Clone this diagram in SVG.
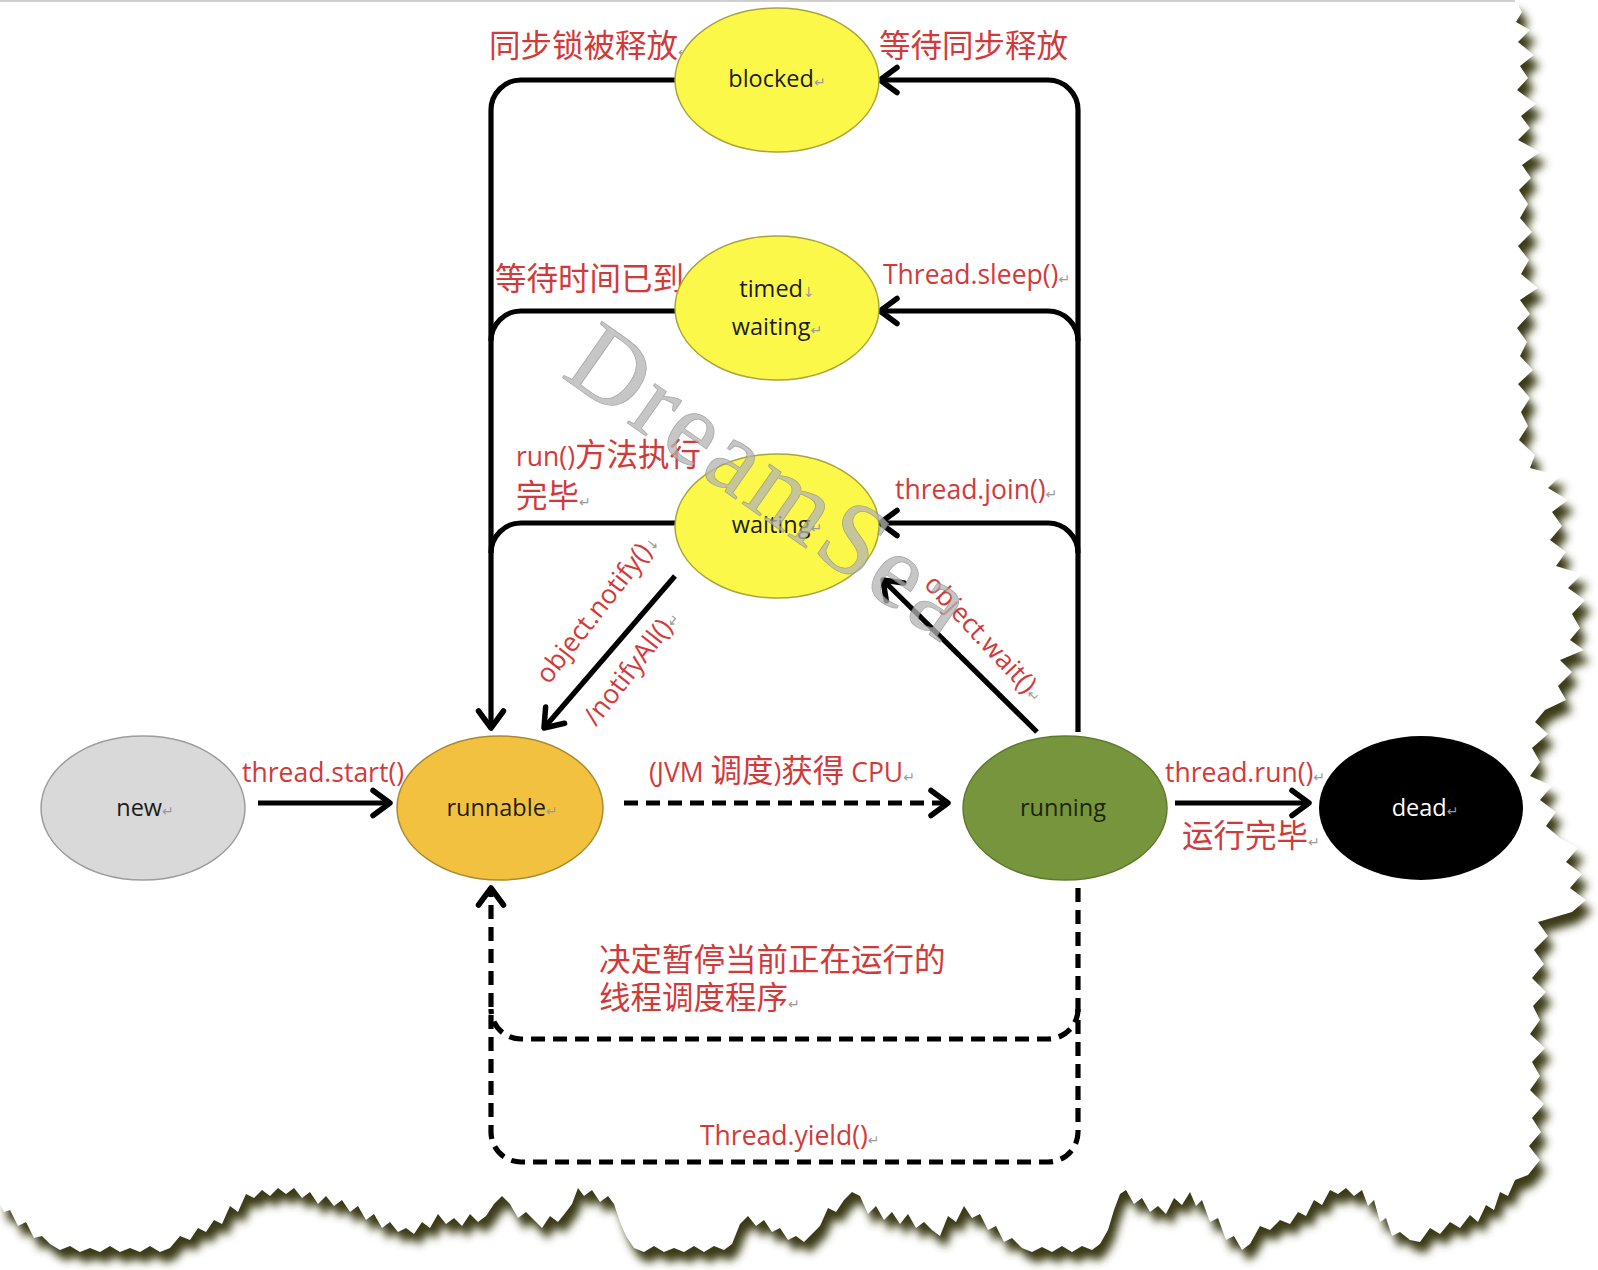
<svg xmlns="http://www.w3.org/2000/svg" width="1598" height="1270" viewBox="0 0 1598 1270">
<defs>
<style>
.lbl{font-family:"Open Sans","Noto Sans CJK SC",sans-serif;fill:#d23a3a;font-size:26.5px}
.cn{font-family:"Noto Sans CJK SC",sans-serif;fill:#d23a3a;font-size:31.5px}
.nt{font-family:"Open Sans","Noto Sans CJK SC",sans-serif;font-size:23.5px;text-anchor:middle}
.pm{fill:#9a9a9a;font-size:14px;font-family:"DejaVu Sans",sans-serif}
.ln{fill:none;stroke:#000;stroke-width:5.2}
.dl{fill:none;stroke:#000;stroke-width:5.2;stroke-dasharray:14 8}
.yel{fill:#fbf84a;stroke:#a8a53a;stroke-width:1.5}
</style>
<marker id="ah" markerUnits="userSpaceOnUse" viewBox="-24 -16 28 32" refX="0" refY="0" markerWidth="28" markerHeight="32" orient="auto">
<path d="M-17,-12.5 L0,0 L-17,12.5" fill="none" stroke="#000" stroke-width="5.5" stroke-linecap="round" stroke-linejoin="round"/>
</marker>
<filter id="blur" x="-5%" y="-5%" width="110%" height="110%"><feGaussianBlur stdDeviation="4"/></filter>
<path id="paper" d="M0,0 L1515,0 L1522,12 L1516,22 L1530,30 L1518,42 L1534,55 L1520,66 L1528,78 L1517,90 L1536,104 L1521,116 L1530,128 L1518,140 L1540,152 L1522,165 L1531,178 L1519,190 L1528,204 L1520,218 L1532,232 L1518,246 L1529,260 L1521,274 L1538,288 L1520,300 L1530,314 L1517,328 L1527,342 L1520,356 L1533,370 L1518,384 L1530,398 L1521,412 L1528,426 L1519,440 L1535,455 L1530,468 L1560,476 L1548,488 L1568,500 L1552,512 L1562,526 L1550,540 L1566,552 L1556,566 L1582,574 L1568,588 L1585,600 L1572,614 L1580,628 L1570,640 L1584,650 L1560,660 L1572,672 L1558,686 L1566,700 L1545,710 L1535,722 L1548,734 L1532,748 L1540,762 L1530,776 L1552,786 L1540,800 L1556,812 L1546,826 L1560,838 L1578,848 L1566,862 L1582,874 L1570,888 L1586,900 L1572,912 L1538,922 L1548,936 L1534,950 L1544,964 L1532,978 L1546,992 L1533,1006 L1540,1020 L1530,1034 L1545,1048 L1532,1062 L1540,1076 L1530,1090 L1544,1104 L1532,1118 L1541,1132 L1529,1146 L1540,1160 L1528,1175 L1515,1180 L1508,1196 L1500,1192 L1494,1210 L1486,1205 L1478,1222 L1470,1215 L1460,1228 L1450,1222 L1440,1234 L1430,1228 L1420,1242 L1410,1240 L1400,1232 L1392,1236 L1386,1218 L1380,1222 L1374,1200 L1368,1206 L1362,1190 L1354,1196 L1346,1188 L1338,1194 L1330,1190 L1322,1205 L1314,1200 L1306,1216 L1298,1212 L1290,1224 L1280,1220 L1270,1230 L1260,1226 L1250,1244 L1242,1250 L1234,1236 L1226,1240 L1218,1218 L1210,1222 L1202,1200 L1196,1206 L1190,1192 L1182,1205 L1174,1198 L1166,1214 L1158,1206 L1150,1212 L1142,1198 L1134,1204 L1126,1190 L1120,1194 L1114,1210 L1108,1230 L1100,1244 L1092,1250 L1082,1246 L1072,1252 L1062,1246 L1052,1252 L1042,1247 L1032,1252 L1022,1248 L1012,1238 L1004,1242 L996,1226 L988,1230 L980,1214 L972,1218 L964,1206 L956,1222 L948,1216 L940,1236 L932,1230 L924,1222 L916,1228 L908,1214 L900,1224 L892,1212 L884,1220 L876,1206 L868,1214 L860,1196 L852,1192 L844,1200 L836,1212 L828,1208 L820,1226 L812,1234 L804,1242 L796,1236 L788,1240 L780,1228 L772,1232 L764,1220 L756,1226 L748,1216 L740,1224 L732,1244 L724,1250 L714,1246 L704,1252 L694,1246 L684,1252 L674,1248 L664,1252 L654,1246 L644,1252 L634,1248 L626,1236 L620,1222 L614,1204 L608,1196 L600,1202 L592,1190 L584,1196 L578,1188 L572,1204 L566,1212 L558,1222 L550,1216 L542,1228 L534,1220 L526,1212 L518,1218 L510,1204 L502,1196 L494,1204 L486,1216 L478,1222 L470,1214 L462,1226 L454,1218 L446,1224 L438,1214 L430,1228 L422,1222 L414,1234 L406,1228 L398,1232 L390,1222 L382,1228 L374,1214 L366,1220 L358,1206 L350,1212 L342,1200 L334,1206 L326,1196 L318,1204 L310,1192 L302,1198 L294,1188 L286,1194 L278,1188 L270,1196 L262,1190 L254,1198 L246,1194 L238,1212 L230,1206 L222,1224 L214,1220 L206,1232 L198,1228 L190,1240 L180,1236 L170,1248 L160,1252 L150,1246 L140,1252 L130,1248 L120,1252 L110,1246 L100,1252 L90,1248 L80,1252 L70,1246 L60,1250 L50,1244 L42,1236 L34,1238 L26,1222 L18,1226 L10,1210 L4,1212 L0,1204 Z"/>
</defs>
<rect width="1598" height="1270" fill="#fff"/>
<g id="paper-bg">
<use href="#paper" fill="#3a3a12" filter="url(#blur)" transform="translate(6,11)"/>
<use href="#paper" fill="#fff"/>
<line x1="0" y1="1" x2="1515" y2="1" stroke="#cfcfcf" stroke-width="2"/>
</g>
<g id="connectors">
<path class="ln" d="M675,80 H521 A30,30 0 0 0 491,110 V728" marker-end="url(#ah)"/>
<path class="ln" d="M675,311 H521 A30,30 0 0 0 491,341"/>
<path class="ln" d="M675,523 H521 A30,30 0 0 0 491,553"/>
<path class="ln" d="M1078,732 V110 A30,30 0 0 0 1048,80 H880" marker-end="url(#ah)"/>
<path class="ln" d="M1078,341 A30,30 0 0 0 1048,311 H880" marker-end="url(#ah)"/>
<path class="ln" d="M1078,553 A30,30 0 0 0 1048,523 H880" marker-end="url(#ah)"/>
<path class="ln" d="M675,576 L544,728" marker-end="url(#ah)"/>
<path class="ln" d="M1037,732 L883,580" marker-end="url(#ah)"/>
<path class="ln" d="M258,803 H390" marker-end="url(#ah)"/>
<path class="dl" d="M624,803 H948" marker-end="url(#ah)"/>
<path class="ln" d="M1175,803 H1309" marker-end="url(#ah)"/>
<path class="dl" d="M1078,888 V1132 A30,30 0 0 1 1048,1162 H521 A30,30 0 0 1 491,1132 V888" marker-end="url(#ah)"/>
<path class="dl" d="M1078,1009 A30,30 0 0 1 1048,1039 H521 A30,30 0 0 1 491,1009"/>
</g>
<g id="labels">
<text class="cn" x="489" y="57">同步锁被释放<tspan class="pm">↵</tspan></text>
<text class="cn" x="879" y="57">等待同步释放</text>
<text class="cn" x="495" y="290">等待时间已到<tspan class="pm">↵</tspan></text>
<text class="lbl" x="883" y="284">Thread.sleep()<tspan class="pm">↵</tspan></text>
<text class="lbl" x="516" y="466">run()<tspan class="cn">方法执行</tspan></text>
<text class="cn" x="516" y="507">完毕<tspan class="pm">↵</tspan></text>
<text class="lbl" x="895" y="499">thread.join()<tspan class="pm">↵</tspan></text>
<text class="lbl" text-anchor="middle" transform="translate(598,609) rotate(-52)" x="0" y="8">object.notify()<tspan class="pm">↓</tspan></text>
<text class="lbl" text-anchor="middle" transform="translate(632,668) rotate(-52)" x="0" y="8">/notifyAll()<tspan class="pm">↵</tspan></text>
<text class="lbl" text-anchor="middle" transform="translate(984,639) rotate(47)" x="0" y="8">object.wait()<tspan class="pm">↵</tspan></text>
<text class="lbl" x="242" y="782">thread.start()</text>
<text class="lbl" x="649" y="782">(JVM <tspan class="cn" font-size="28">调度</tspan>)<tspan class="cn" font-size="28">获得</tspan> CPU<tspan class="pm">↵</tspan></text>
<text class="lbl" x="1165" y="782">thread.run()<tspan class="pm">↵</tspan></text>
<text class="cn" x="1182" y="847">运行完毕<tspan class="pm">↵</tspan></text>
<text class="cn" x="599" y="971">决定暂停当前正在运行的</text>
<text class="cn" x="599" y="1009">线程调度程序<tspan class="pm">↵</tspan></text>
<text class="lbl" x="700" y="1145">Thread.yield()<tspan class="pm">↵</tspan></text>
</g>
<g id="blocked"><ellipse class="yel" cx="777" cy="80" rx="102" ry="72"/><text class="nt" x="777" y="87" style="fill:#1c1c1c">blocked<tspan class="pm">↵</tspan></text></g>
<g id="timed-waiting"><ellipse class="yel" cx="777" cy="308" rx="102" ry="72"/><text class="nt" x="777" y="297" style="fill:#1c1c1c">timed<tspan class="pm">↓</tspan></text><text class="nt" x="777" y="335" style="fill:#1c1c1c">waiting<tspan class="pm">↵</tspan></text></g>
<g id="waiting"><ellipse class="yel" cx="777" cy="526" rx="102" ry="72"/><text class="nt" x="777" y="533" style="fill:#1c1c1c">waiting<tspan class="pm">↵</tspan></text></g>
<g id="new"><ellipse cx="143" cy="808" rx="102" ry="72" fill="#d9d9d9" stroke="#9c9c9c" stroke-width="1.5"/><text class="nt" x="145" y="816" style="fill:#1c1c1c">new<tspan class="pm">↵</tspan></text></g>
<g id="runnable"><ellipse cx="500" cy="808" rx="103" ry="72" fill="#f2c13f" stroke="#a88a30" stroke-width="1.5"/><text class="nt" x="502" y="816" style="fill:#1c1c1c">runnable<tspan class="pm">↵</tspan></text></g>
<g id="running"><ellipse cx="1065" cy="808" rx="102" ry="72" fill="#77953c" stroke="#5f7a2c" stroke-width="1.5"/><text class="nt" x="1063" y="816" style="fill:#1a260a">running</text></g>
<g id="dead"><ellipse cx="1421" cy="808" rx="102" ry="72" fill="#000"/><text class="nt" x="1425" y="816" style="fill:#ffffff">dead<tspan class="pm">↵</tspan></text></g>
<g id="watermark"><text transform="translate(560,376) rotate(35)" x="0" y="0" font-family="Liberation Serif" font-size="105" fill="#b4b4b4" stroke="#8c8c8c" stroke-width="0.8" opacity="0.75" letter-spacing="4">DreamSea</text></g>
</svg>
